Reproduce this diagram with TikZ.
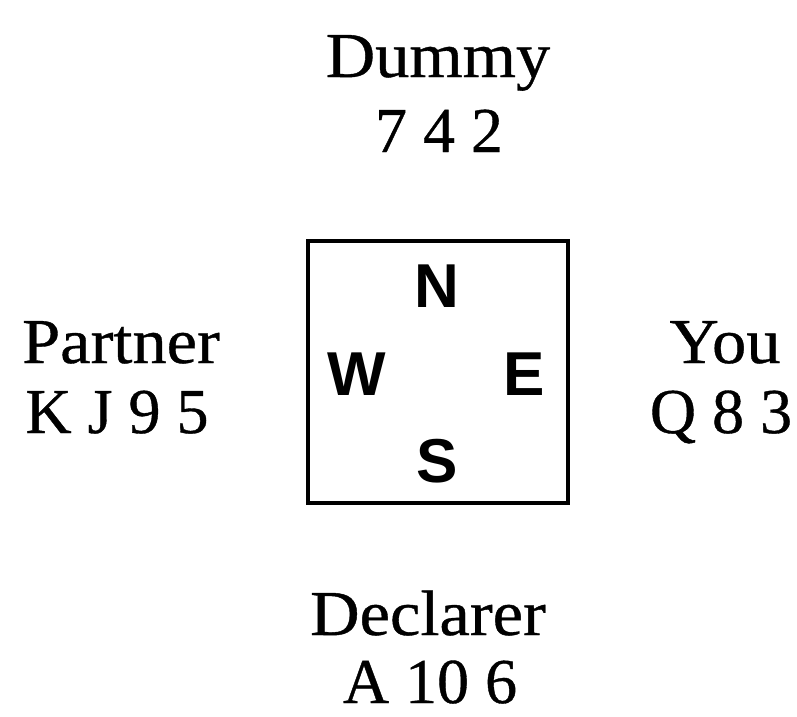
\documentclass[tikz,border=0pt]{standalone}
\usepackage{fontspec}
\setmainfont{Liberation Serif}[FakeBold=0.6]
\newfontfamily\wordfont{Liberation Serif}[FakeStretch=1.07,FakeBold=0.6]
\newfontfamily\compassfont{Liberation Sans}[BoldFont={Liberation Sans Bold}]
\begin{document}
\begin{tikzpicture}[x=1pt,y=-1pt,
  hand/.style={anchor=base,inner sep=0pt,font=\fontsize{64}{70}\selectfont},
  who/.style={hand,font=\wordfont\fontsize{64}{70}\selectfont},
  dir/.style={inner sep=0pt,font=\compassfont\bfseries\fontsize{62}{66}\selectfont},
  table/.style={draw,line width=3.4pt,minimum width=260pt,minimum height=262pt,inner sep=0pt}]
\useasboundingbox (0,0) rectangle (797,716);
\node[table] (box) at (438,372) {};
\node[dir] (N) at (437,286) {N};
\node[dir] (W) at (357,374) {W};
\node[dir] (E) at (524,374) {E};
\node[dir] (S) at (437,461) {S};
\node[who] (dummy) at (438,77) {Dummy};
\node[hand] (dummyc) at (439,152) {7 4 2};
\node[who] (partner) at (121,363) {Partner};
\node[hand] (partnerc) at (117,433) {K J 9 5};
\node[who] (you) at (725,363) {You};
\node[hand] (youc) at (721,433) {Q 8 3};
\node[who] (decl) at (428,635) {Declarer};
\node[hand] (declc) at (430,703) {A 10 6};
\end{tikzpicture}
\end{document}
